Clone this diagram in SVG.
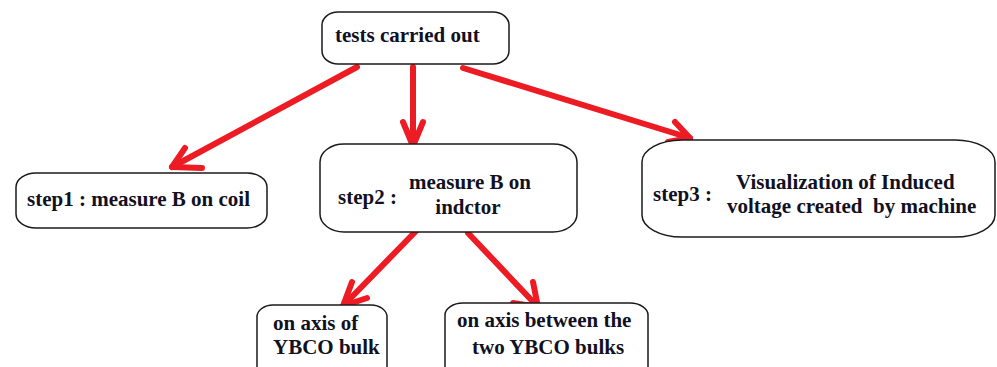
<svg xmlns="http://www.w3.org/2000/svg" width="997" height="367" viewBox="0 0 997 367">
  <style>
    .box { fill: #ffffff; stroke: #1a1a1a; stroke-width: 1.5; }
    .lbl { font-family: "Liberation Serif", "Times New Roman", serif; font-weight: bold; font-size: 21px; fill: #111122; white-space: pre; }
    .mid { text-anchor: middle; }
    .arr { fill: none; stroke: #ED1C24; stroke-width: 6; stroke-linecap: round; stroke-linejoin: round; }
  </style>
  <rect width="997" height="367" fill="#ffffff"/>

  <g id="connectors">
    <!-- tests -> step1 -->
    <line class="arr" x1="357" y1="67" x2="172" y2="167"/>
    <polyline class="arr" points="185,148 172,167 202,168"/>
    <!-- tests -> step2 -->
    <line class="arr" x1="413" y1="67" x2="413" y2="146"/>
    <polyline class="arr" points="403,122 413,146 423,122"/>
    <!-- tests -> step3 -->
    <line class="arr" x1="463" y1="68" x2="690" y2="138"/>
    <polyline class="arr" points="675,122 690,138 668,142"/>
    <!-- step2 -> on axis of bulk -->
    <line class="arr" x1="417" y1="230" x2="343" y2="306"/>
    <polyline class="arr" points="352,282 343,306 367,298"/>
    <!-- step2 -> between bulks -->
    <line class="arr" x1="468" y1="233" x2="538" y2="307"/>
    <polyline class="arr" points="533,282 538,307 513,303"/>
  </g>

  <g id="tests">
    <rect class="box" x="322" y="12" width="187" height="52" rx="16" ry="13"/>
    <text class="lbl" x="335" y="42">tests carried out</text>
  </g>

  <g id="step1">
    <rect class="box" x="16" y="173" width="251" height="55" rx="20" ry="14"/>
    <text class="lbl" x="27" y="206">step1 : measure B on coil</text>
  </g>

  <g id="step2">
    <rect class="box" x="320" y="144" width="257" height="88" rx="24" ry="18"/>
    <text class="lbl" x="338" y="204">step2 :</text>
    <text class="lbl mid" x="470" y="189">measure B on</text>
    <text class="lbl mid" x="468" y="214">indctor</text>
  </g>

  <g id="step3">
    <rect class="box" x="642" y="140" width="353" height="97" rx="40" ry="22"/>
    <text class="lbl" x="653" y="201">step3 :</text>
    <text class="lbl" x="736" y="189">Visualization of Induced</text>
    <text class="lbl" x="727" y="213">voltage created  by machine</text>
  </g>

  <g id="axis-of-bulk">
    <rect class="box" x="257" y="305" width="130" height="80" rx="16" ry="12"/>
    <text class="lbl" x="273" y="330">on axis of</text>
    <text class="lbl" x="273" y="354">YBCO bulk</text>
  </g>

  <g id="axis-between-bulks">
    <rect class="box" x="445" y="303" width="203" height="82" rx="18" ry="12"/>
    <text class="lbl" x="457" y="327">on axis between the</text>
    <text class="lbl" x="472" y="354">two YBCO bulks</text>
  </g>
</svg>
